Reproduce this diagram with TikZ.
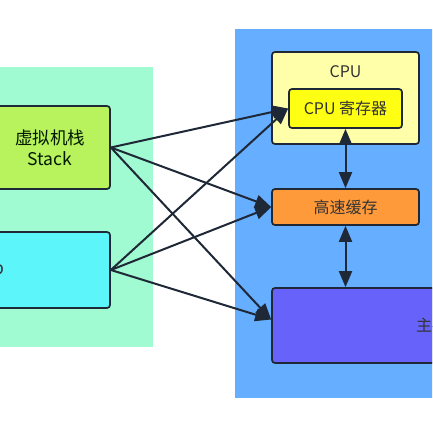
\documentclass[tikz,border=0pt]{standalone}
\usepackage{fontspec}
\newfontfamily\cjk{Noto Sans CJK SC}
\usetikzlibrary{positioning,arrows.meta}
\definecolor{mint}{HTML}{A0FAD2}
\definecolor{sky}{HTML}{66AEFF}
\definecolor{lime}{HTML}{B8F25C}
\definecolor{aqua}{HTML}{5CF5FA}
\definecolor{cream}{HTML}{FFFFAA}
\definecolor{lemon}{HTML}{FFFF14}
\definecolor{amber}{HTML}{FF9A3A}
\definecolor{violet}{HTML}{6662FA}
\definecolor{edge}{HTML}{1E2836}
\definecolor{ink}{HTML}{333333}
\tikzstyle{panel}=[inner sep=0, minimum width=0]
\tikzstyle{unit}=[draw=edge, line width=1.7pt, rounded corners=3pt, inner sep=0, text=ink, font=\cjk\fontsize{16}{20}\selectfont]
\tikzstyle{area}=[unit, font=\cjk\fontsize{17.5}{21}\selectfont, align=center]
\tikzstyle{link}=[-{Triangle[length=16pt,width=13pt]}, draw=edge, line width=2pt]
\tikzstyle{sync}=[{Triangle[length=16pt,width=13pt]}-{Triangle[length=16pt,width=13pt]}, draw=edge, line width=2pt]

\begin{document}
\begin{tikzpicture}[x=1pt, y=-1pt]
    \useasboundingbox[fill=white] (0,0) rectangle (432,433);
    \clip (0,0) rectangle (432,433);
    \node[panel, fill=mint, minimum width=163, minimum height=280] (jvm) at (71.5,207) {};
    \node[panel, fill=sky, minimum width=210, minimum height=369] (host) at (340,213.5) {};
    \node[area, fill=lime, minimum width=120, minimum height=83, text=black!75!green!40!black] (stack) at (50,147.5) {虚拟机栈\\Stack};
    \node[area, fill=aqua, minimum width=254, minimum height=76] (heap) at (-17,270) {Heap};
    \node[unit, fill=cream, minimum width=147, minimum height=92] (cpu) at (345.5,98) {};
    \node[unit, draw=none, fill=none] (cpulabel) at (345.5,72) {CPU};
    \node[unit, fill=lemon, minimum width=113, minimum height=39] (reg) at (345.5,108.5) {CPU 寄存器};
    \node[unit, fill=amber, minimum width=147, minimum height=36] (cache) at (345.5,207) {高速缓存};
    \node[unit, fill=violet, minimum width=320, minimum height=75] (mem) at (432,325.5) {主存};
    \draw[sync] (reg) -- (cache);
    \draw[sync] (cache) -- (mem.north -| cache);
    \foreach \src in {stack, heap} {
        \draw[link] (\src.east) -- (reg.west);
        \draw[link] (\src.east) -- (cache.west);
        \draw[link] (\src.east) -- ([yshift=6pt]mem.west);
    }
\end{tikzpicture}
\end{document}
